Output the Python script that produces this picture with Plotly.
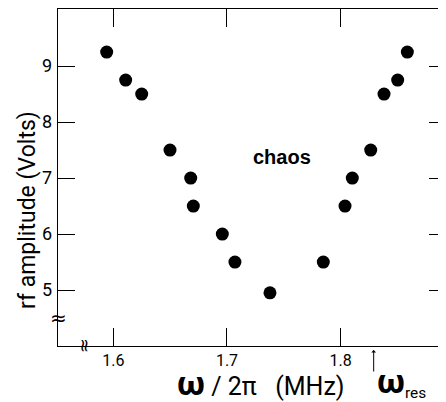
import plotly.graph_objects as go

# data
freq_mhz = [1.5942, 1.6109, 1.6250, 1.6499, 1.6681, 1.6704, 1.6959, 1.7070, 1.7378,
            1.7847, 1.8038, 1.8102, 1.8264, 1.8381, 1.8501, 1.8586]
rf_volts = [9.25, 8.75, 8.5, 7.5, 7.0, 6.5, 6.0, 5.5, 4.95,
            5.5, 6.5, 7.0, 7.5, 8.5, 8.75, 9.25]
x_ticks = [1.6, 1.7, 1.8]
y_ticks = [5, 6, 7, 8, 9]
omega_res = 1.829

FONT = "Roboto, Liberation Sans, sans-serif"
Y_RANGE = [4.0, 10.02]

# page body has a default 8px margin, so the figure is sized/offset to compensate
fig = go.Figure()
fig.add_trace(go.Scatter(
    x=freq_mhz, y=rf_volts, mode="markers",
    marker=dict(color="black", size=13, line=dict(width=0)),
    showlegend=False, hoverinfo="skip"))
# invisible copy on a label-only axis (labels placed closer to the frame)
fig.add_trace(go.Scatter(
    x=freq_mhz, y=rf_volts, mode="markers", yaxis="y2",
    marker=dict(color="rgba(0,0,0,0)", size=1),
    showlegend=False, hoverinfo="skip"))

fig.update_layout(
    width=438, height=394,
    margin=dict(l=50, r=0, t=1, b=56, autoexpand=False),
    paper_bgcolor="white", plot_bgcolor="white",
    font=dict(family=FONT, color="black"),
    xaxis=dict(range=[1.5514, 1.8926], tickvals=x_ticks, ticktext=[f"{v:.1f}" for v in x_ticks],
               ticks="inside", ticklen=18, tickwidth=1, tickcolor="black",
               showline=True, linecolor="black", linewidth=1, mirror="ticks",
               showgrid=False, zeroline=False,
               tickfont=dict(size=16, family=FONT), ticklabelstandoff=0),
    yaxis=dict(range=Y_RANGE, tickvals=y_ticks, showticklabels=False,
               ticks="inside", ticklen=17, tickwidth=1, tickcolor="black",
               showline=True, linecolor="black", linewidth=1, mirror="ticks",
               showgrid=False, zeroline=False),
    yaxis2=dict(range=Y_RANGE, tickvals=y_ticks, ticktext=[str(v) for v in y_ticks],
                overlaying="y", anchor="free", position=0, side="left",
                showline=False, ticks="", showgrid=False, zeroline=False,
                tickfont=dict(size=18, family=FONT), ticklabelstandoff=6),
)

# axis titles
fig.add_annotation(text="rf amplitude (Volts)", xref="paper", yref="paper",
                   x=(27 - 58) / 388, y=(346 - 210) / 337, xanchor="center", yanchor="middle",
                   textangle=-90, showarrow=False, font=dict(size=23, family=FONT))
fig.add_annotation(text="<b><span style='font-size:34px'>ω</span></b> / 2π   (MHz)",
                   xref="paper", yref="paper",
                   x=(261 - 58) / 388, y=-(383 - 346) / 337, xanchor="center", yanchor="middle",
                   showarrow=False, font=dict(size=25, family=FONT))

# chaos label
fig.add_annotation(text="<b>chaos</b>", x=1.7484, y=7.375, showarrow=False,
                   font=dict(size=20, family="Liberation Sans, Arial, sans-serif"))

# omega_res marker
fig.add_annotation(x=omega_res, y=-(350 - 346) / 337, xref="x", yref="paper",
                   text="", showarrow=True, arrowhead=1, arrowsize=0.8, arrowwidth=1,
                   ax=0, ay=23, arrowcolor="black")
fig.add_annotation(text="<b><span style='font-size:34px'>ω</span></b><sub>res</sub>",
                   x=omega_res, y=-(381 - 346) / 337,
                   xref="x", yref="paper", xanchor="left", yanchor="middle", xshift=1,
                   showarrow=False, font=dict(size=22, family=FONT))

# axis break marks
fig.add_annotation(text="≈", xref="paper", yref="y", x=0, y=4.5, showarrow=False,
                   xanchor="center", yanchor="middle",
                   font=dict(size=20, family="DejaVu Sans"))
fig.add_annotation(text="≈", xref="x", yref="paper", x=1.5735, y=0, showarrow=False,
                   xanchor="center", yanchor="middle", textangle=-90,
                   font=dict(size=18, family="DejaVu Sans"))

fig.write_html("out.html")
